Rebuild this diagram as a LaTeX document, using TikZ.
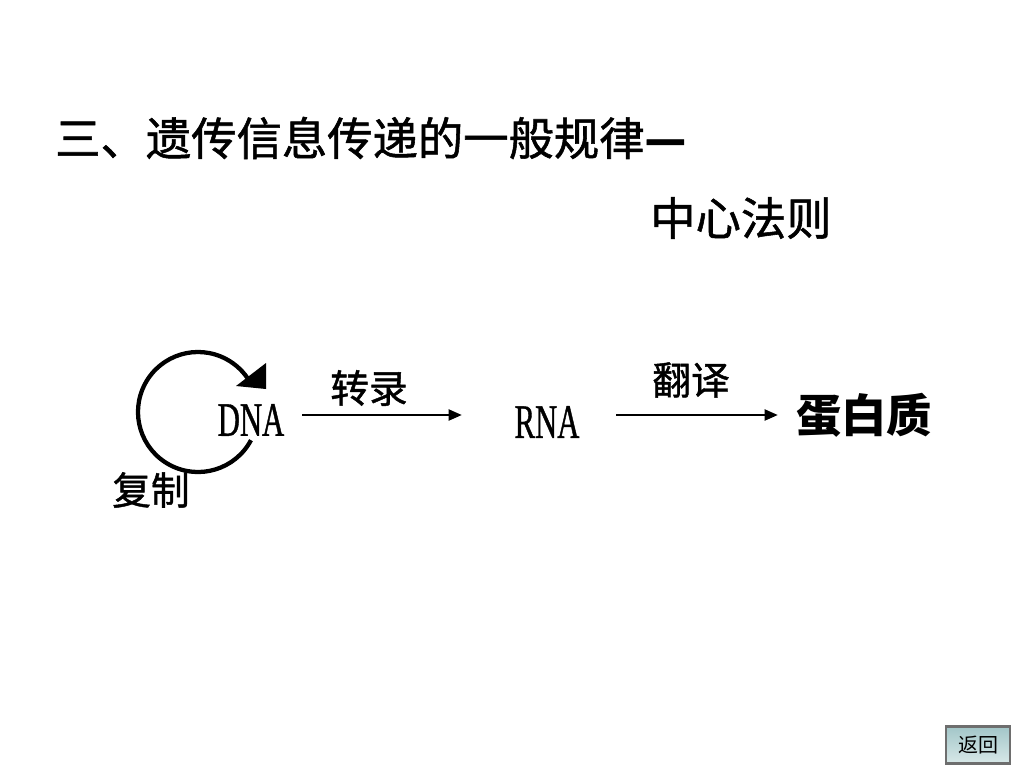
\documentclass[tikz,border=0pt]{standalone}
\usepackage{fontspec}
\setmainfont{Liberation Serif}
\newfontfamily\cjk[FakeBold=1.2]{Noto Sans CJK SC}
\newfontfamily\cjkthin{Noto Sans CJK SC}
\newfontfamily\narrowserif[FakeStretch=0.64, FakeBold=0.8]{Liberation Serif}
\usetikzlibrary{arrows.meta}
\definecolor{btnedge}{HTML}{6E6E6E}
\definecolor{btntop}{HTML}{A2C6C8}
\definecolor{btnbot}{HTML}{D8E8E8}

\begin{document}
\begin{tikzpicture}[x=0.75pt, y=-0.75pt,
  big/.style={inner sep=0pt, font=\cjk\fontsize{34}{36}\selectfont},
  lbl/.style={inner sep=0pt, font=\cjk\fontsize{29}{31}\selectfont},
  mol/.style={inner sep=0pt, font=\narrowserif\fontsize{36}{38}\selectfont},
  flow/.style={line width=2.2pt, -{Triangle[length=10pt, width=8pt]}}]
\useasboundingbox (0,0) rectangle (1024,768);

\node[big, anchor=west] (t1) at (55,138) {三、遗传信息传递的一般规律\textbf{—}};
\node[big, anchor=west] (t2) at (650,218) {中心法则};

\node[mol] (dna) at (251,420) {DNA};
\node[mol] (rna) at (547,422) {RNA};
\node[big, font=\cjkthin\bfseries\fontsize{34}{36}\selectfont] (pro) at (864,415) {蛋白质};

\coordinate (a1) at (302,415);
\coordinate (a2) at (462,415);
\coordinate (b1) at (616,415);
\coordinate (b2) at (778,415);
\draw[flow] (a1) -- (a2);
\draw[flow] (b1) -- (b2);
\node[lbl] (tr) at (369,388) {转录};
\node[lbl] (tl) at (691,380) {翻译};

% replication loop
\coordinate (c0) at (198,412);
\coordinate (c1) at ([shift={(28:60)}]c0);
\draw[line width=3.2pt] (c1) arc[start angle=28, end angle=330, radius=60];
\fill (236,386) -- (266,363) -- (266,389) -- cycle;
\node[lbl] (rep) at (151,490) {复制};

% back button
\node[draw=btnedge, line width=2.2pt, top color=btntop, bottom color=btnbot,
  minimum width=48pt, minimum height=28pt, inner sep=0pt,
  font=\cjkthin\fontsize{15}{16}\selectfont] (back) at (978,745) {返回};
\end{tikzpicture}
\end{document}
